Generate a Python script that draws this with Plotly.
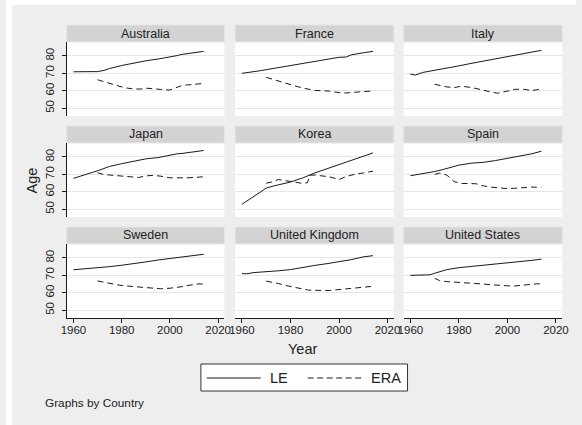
import plotly.graph_objects as go

countries = ["Australia", "France", "Italy", "Japan", "Korea", "Spain",
             "Sweden", "United Kingdom", "United States"]

years_le = [1960, 1962, 1965, 1968, 1970, 1973, 1975, 1980, 1985, 1990,
            1995, 2000, 2003, 2005, 2010, 2014]
years_era = [1970, 1972, 1975, 1978, 1981, 1985, 1987, 1988, 1990, 1993,
             1996, 2000, 2003, 2005, 2007, 2010, 2012, 2014]

le_australia = [70.9, 70.9, 70.9, 70.9, 71.0, 71.8, 72.8, 74.5, 76.0, 77.2, 78.2, 79.2, 80.2, 80.9, 82.0, 82.6]
le_france = [70.0, 70.3, 70.9, 71.6, 72.1, 72.8, 73.2, 74.5, 75.7, 77.0, 78.1, 79.2, 79.4, 80.6, 81.8, 82.6]
le_italy = [69.6, 69.0, 70.5, 71.2, 71.6, 72.4, 73.0, 74.3, 75.7, 77.0, 78.4, 80.0, 80.5, 81.2, 82.2, 83.2]
le_japan = [67.7, 68.6, 70.2, 71.2, 72.0, 73.4, 74.6, 76.1, 77.7, 78.9, 79.6, 81.2, 81.8, 82.0, 82.9, 83.7]
le_korea = [52.8, 54.7, 57.3, 59.9, 62.1, 63.3, 64.0, 65.6, 67.9, 70.8, 73.2, 75.6, 77.0, 78.1, 80.5, 82.3]
le_spain = [69.2, 69.6, 70.2, 71.0, 71.6, 72.6, 73.3, 75.3, 76.4, 76.9, 77.9, 79.2, 79.6, 80.3, 81.8, 83.3]
le_sweden = [73.2, 73.4, 73.9, 74.2, 74.6, 74.9, 75.0, 75.8, 76.6, 77.7, 78.8, 79.7, 80.2, 80.6, 81.5, 82.1]
le_uk = [71.0, 70.9, 71.6, 71.8, 71.9, 72.1, 72.6, 73.3, 74.6, 75.7, 76.7, 77.9, 78.3, 79.0, 80.6, 81.3]
le_us = [70.0, 70.1, 70.2, 70.3, 71.2, 72.3, 73.3, 74.4, 75.1, 75.6, 76.1, 76.9, 77.3, 77.8, 78.6, 79.3]

era_australia = [66.3, 65.5, 64.0, 62.8, 61.8, 61.0, 60.8, 61.0, 61.5, 61.3, 60.8, 60.4, 61.8, 63.0, 63.3, 63.6, 64.1, 64.2]
era_france = [67.7, 66.8, 65.4, 64.1, 63.1, 61.6, 61.0, 60.7, 60.2, 60.0, 59.8, 58.9, 58.7, 59.0, 59.2, 59.5, 59.8, 59.9]
era_italy = [63.7, 63.0, 62.2, 61.8, 62.6, 61.9, 61.4, 61.1, 60.4, 59.3, 58.6, 59.8, 60.8, 60.9, 60.8, 60.1, 60.7, 61.0]
era_japan = [70.9, 70.1, 69.6, 69.2, 68.9, 68.6, 68.2, 68.5, 69.1, 69.4, 69.0, 68.0, 67.9, 67.7, 68.0, 68.2, 68.4, 68.6]
era_korea = [64.9, 65.5, 67.0, 66.3, 65.6, 64.8, 65.2, 69.5, 69.6, 68.9, 68.6, 67.0, 68.8, 69.5, 70.2, 70.8, 71.3, 71.8]
era_spain = [70.0, 70.7, 69.6, 65.8, 64.8, 64.9, 64.6, 64.2, 63.4, 62.7, 62.2, 61.8, 62.0, 62.3, 62.6, 62.7, 62.6, 62.7]
era_sweden = [66.8, 66.2, 65.5, 64.6, 64.0, 63.5, 63.2, 63.0, 62.8, 62.5, 62.3, 62.6, 63.0, 63.5, 64.1, 64.7, 65.1, 64.9]
era_uk = [66.7, 66.2, 65.3, 64.2, 63.2, 62.0, 61.6, 61.5, 61.3, 61.3, 61.3, 61.8, 62.3, 62.6, 62.9, 63.2, 63.5, 63.7]
era_us = [68.3, 67.0, 66.4, 66.2, 66.0, 65.7, 65.4, 65.3, 65.0, 64.6, 64.2, 64.0, 63.9, 64.2, 64.6, 64.9, 65.1, 65.2]

le_series = [le_australia, le_france, le_italy, le_japan, le_korea, le_spain,
             le_sweden, le_uk, le_us]
era_series = [era_australia, era_france, era_italy, era_japan, era_korea,
              era_spain, era_sweden, era_uk, era_us]

series_names = ["LE", "ERA"]
y_ticks = [50, 60, 70, 80]
x_ticks = [1960, 1980, 2000, 2020]

W, H = 582, 425
FONT = "Liberation Sans, Arial, sans-serif"
INK = "#1a1a1a"
TXT = "#222222"
DASH = "6px,4px"

col_px = [(62, 223), (234, 396), (406, 568)]
row_px = [(42, 116), (143, 217), (244, 318)]
strip_px = [(25, 42), (126, 143), (227, 244)]


def px(x):
    return x / W


def py(y):
    return 1 - y / H


fig = go.Figure()
layout = dict(
    width=W, height=H,
    margin=dict(l=0, r=0, t=0, b=0),
    paper_bgcolor="#eeeeee",
    plot_bgcolor="white",
    font=dict(family=FONT, color=TXT, size=12),
    showlegend=False,
)
shapes = []
annotations = []

# white outer margins (top / left) seen in reference
shapes.append(dict(type="rect", xref="paper", yref="paper", x0=0, x1=1,
                   y0=py(5), y1=1, fillcolor="white", line_width=0, layer="below"))
shapes.append(dict(type="rect", xref="paper", yref="paper", x0=0, x1=px(6),
                   y0=0, y1=1, fillcolor="white", line_width=0, layer="below"))

for i, name in enumerate(countries):
    r, c = divmod(i, 3)
    n = "" if i == 0 else str(i + 1)
    xa, ya = "x" + n, "y" + n
    fig.add_trace(go.Scatter(
        x=years_le, y=le_series[i], mode="lines", name=series_names[0],
        line=dict(color=INK, width=1), xaxis=xa, yaxis=ya,
        legendgroup="LE", hoverinfo="skip"))
    fig.add_trace(go.Scatter(
        x=years_era, y=era_series[i], mode="lines", name=series_names[1],
        line=dict(color=INK, width=1, dash=DASH), xaxis=xa, yaxis=ya,
        legendgroup="ERA", hoverinfo="skip"))

    x0, x1 = col_px[c]
    y0, y1 = row_px[r]
    left = c == 0
    bottom = r == 2
    layout["xaxis" + n] = dict(
        domain=[px(x0), px(x1)], anchor=ya, range=[1957.2, 2022.6],
        tickvals=x_ticks, showticklabels=bottom, ticks="outside" if bottom else "",
        ticklen=4, tickcolor=INK, showline=bottom, linecolor=INK, linewidth=1,
        showgrid=False, zeroline=False, tickfont=dict(size=11.5),
        ticklabelstandoff=-3, fixedrange=True)
    layout["yaxis" + n] = dict(
        domain=[py(y1), py(y0)], anchor=xa, range=[45.5, 88],
        tickvals=y_ticks, showticklabels=left, ticks="outside" if left else "",
        ticklen=4, tickcolor=INK, showline=left, linecolor=INK, linewidth=1,
        showgrid=True, gridcolor="#e6e6e6", gridwidth=1, zeroline=False,
        tickangle=-90, tickfont=dict(size=11.5), ticklabelstandoff=3,
        fixedrange=True)

    s0, s1 = strip_px[r]
    shapes.append(dict(type="rect", xref="paper", yref="paper",
                       x0=px(x0), x1=px(x1), y0=py(s1), y1=py(s0),
                       fillcolor="#d3d3d3", line=dict(color="#e2e6e8", width=1),
                       layer="below"))
    annotations.append(dict(text=name, xref="paper", yref="paper",
                            x=px((x0 + x1) / 2), y=py((s0 + s1) / 2),
                            showarrow=False, xanchor="center", yanchor="middle",
                            font=dict(size=12.5, color=TXT)))

annotations.append(dict(text="Age", xref="paper", yref="paper", x=px(27), y=py(180),
                        textangle=-90, showarrow=False, xanchor="center",
                        yanchor="middle", font=dict(size=14.5, color=TXT)))
annotations.append(dict(text="Year", xref="paper", yref="paper", x=px(303), y=py(349),
                        showarrow=False, xanchor="center", yanchor="middle",
                        font=dict(size=14.5, color=TXT)))
annotations.append(dict(text="Graphs by Country", xref="paper", yref="paper",
                        x=px(38), y=py(403), showarrow=False, xanchor="left",
                        yanchor="middle", font=dict(size=11.8, color=TXT)))

# legend box (drawn as in the reference: long key samples)
leg_y = 378
shapes.append(dict(type="rect", xref="paper", yref="paper",
                   x0=px(199), x1=px(410), y0=py(391), y1=py(364),
                   fillcolor="white", line=dict(color="#333333", width=1),
                   layer="above"))
shapes.append(dict(type="line", xref="paper", yref="paper",
                   x0=px(205), x1=px(260), y0=py(leg_y), y1=py(leg_y),
                   line=dict(color=INK, width=1), layer="above"))
shapes.append(dict(type="line", xref="paper", yref="paper",
                   x0=px(308), x1=px(364), y0=py(leg_y), y1=py(leg_y),
                   line=dict(color=INK, width=1, dash="6px,3.5px"), layer="above"))
annotations.append(dict(text=series_names[0], xref="paper", yref="paper",
                        x=px(268), y=py(leg_y), showarrow=False, xanchor="left",
                        yanchor="middle", font=dict(size=14.5, color=TXT)))
annotations.append(dict(text=series_names[1], xref="paper", yref="paper",
                        x=px(371), y=py(leg_y), showarrow=False, xanchor="left",
                        yanchor="middle", font=dict(size=14.5, color=TXT)))

layout["shapes"] = shapes
layout["annotations"] = annotations
fig.update_layout(**layout)

fig.write_html(
    "out.html",
    config={"displayModeBar": False},
    post_script="document.body.style.margin='0';document.body.style.overflow='hidden';",
)
